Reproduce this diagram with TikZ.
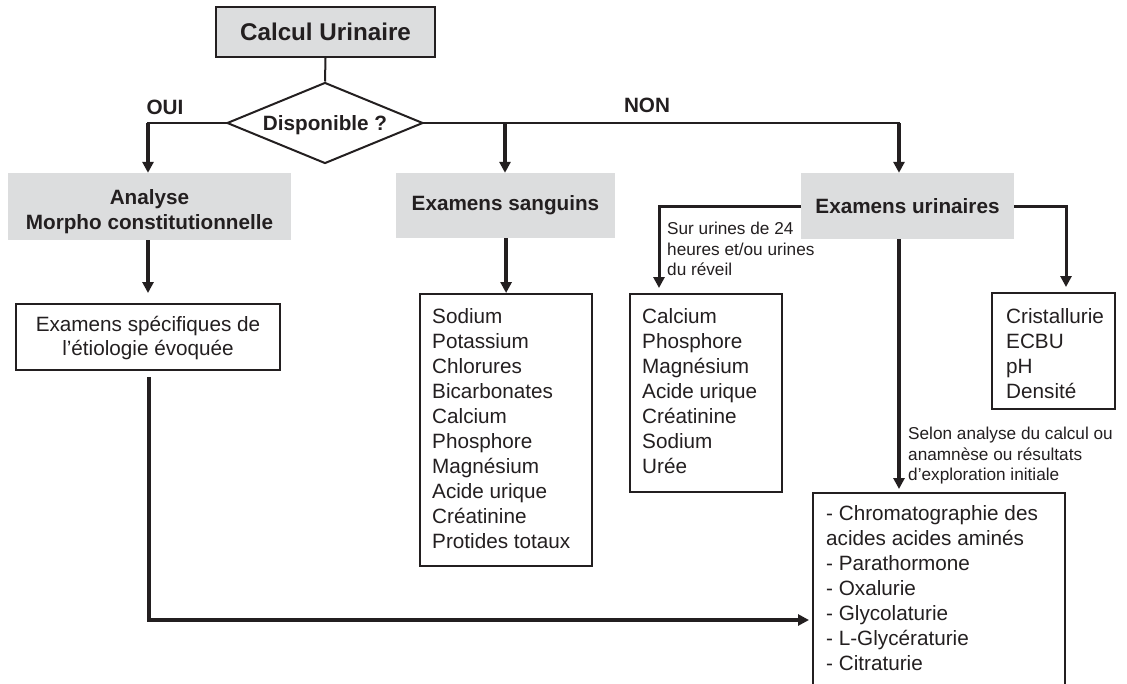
\documentclass[tikz,border=0pt]{standalone}
\usepackage{fontspec}
\setmainfont{Liberation Sans}
\usetikzlibrary{shapes.geometric,arrows.meta}
\definecolor{ink}{HTML}{231F20}
\definecolor{boxgray}{HTML}{DCDDDE}
\begin{document}
\begin{tikzpicture}[x=1pt,y=-1pt,
  txt/.style={font=\fontsize{20.7}{25}\selectfont, text=ink, inner sep=0pt},
  hdr/.style={font=\bfseries\fontsize{20.7}{25}\selectfont, text=ink, inner sep=0pt},
  graybox/.style={fill=boxgray, draw=none, inner sep=0pt},
  listbox/.style={draw=ink, line width=2.2pt, fill=white, inner sep=0pt, anchor=north west},
  listtxt/.style={txt, align=left, anchor=north west},
  thinln/.style={draw=ink, line width=2pt},
  arr/.style={draw=ink, line width=3.5pt, -{Triangle[width=11pt,length=11pt]}},
  sidearr/.style={draw=ink, line width=3pt, -{Triangle[width=11pt,length=11pt]}},
  note/.style={font=\fontsize{17.2}{20.8}\selectfont, text=ink, align=left, inner sep=0pt, anchor=north west},
]
\path[use as bounding box, clip] (0,0) rectangle (1127,683);
\fill[white] (0,0) rectangle (1127,683);

% top
\node[draw=ink, line width=2pt, fill=boxgray, minimum width=219pt, minimum height=50pt, inner sep=0pt,
      font=\bfseries\fontsize{24.2}{29}\selectfont, text=ink] (calc) at (325.5,32) {Calcul Urinaire};
\node[diamond, draw=ink, line width=2pt, fill=white, minimum width=196pt, minimum height=81pt,
      shape aspect=2.42, inner sep=0pt, hdr, text depth=0pt] (dispo) at (325,123) {Disponible ?};
\node[hdr] (oui) at (165,107) {OUI};
\node[hdr] (non) at (647,105) {NON};

% gray header boxes
\node[graybox, minimum width=283pt, minimum height=67pt] (ana) at (149.5,206.5) {};
\node[hdr, align=center, anchor=north] (anatxt) at (149.5,189.3) {Analyse\\Morpho constitutionnelle};
\node[graybox, minimum width=219pt, minimum height=65pt, hdr] (esang) at (505.5,205.5) {Examens sanguins};
\node[graybox, minimum width=213pt, minimum height=66pt, hdr] (urin) at (907.5,206) {Examens urinaires};

% specific exams box
\node[draw=ink, line width=2pt, fill=white, minimum width=264pt, minimum height=66pt, inner sep=0pt] (spec) at (148,337) {};
\node[txt, align=center, anchor=north, font=\fontsize{20.7}{24}\selectfont] (spectxt) at (148,316.3) {Examens spécifiques de\\l’étiologie évoquée};

% list boxes
\node[listbox, minimum width=172pt, minimum height=272pt] (sang) at (419,293) {};
\node[listtxt] (sangtxt) at (432,308.3) {Sodium\\Potassium\\Chlorures\\Bicarbonates\\Calcium\\Phosphore\\Magnésium\\Acide urique\\Créatinine\\Protides totaux};

\node[listbox, minimum width=152pt, minimum height=198pt] (ca) at (629,293) {};
\node[listtxt] (catxt) at (642,308.3) {Calcium\\Phosphore\\Magnésium\\Acide urique\\Créatinine\\Sodium\\Urée};

\node[listbox, minimum width=123pt, minimum height=116pt] (cr) at (991,292) {};
\node[listtxt] (crtxt) at (1006,308.3) {Cristallurie\\ECBU\\pH\\Densité};

\node[listbox, minimum width=252pt, minimum height=200pt] (bot) at (812,492) {};
\node[listtxt] (bottxt) at (826,505.3) {- Chromatographie des\\acides acides aminés\\- Parathormone\\- Oxalurie\\- Glycolaturie\\- L-Glycératurie\\- Citraturie};

% notes
\node[note] (n24) at (667,221.6) {Sur urines de 24\\heures et/ou urines\\du réveil};
\node[note] (nsel) at (908,426.6) {Selon analyse du calcul ou\\anamnèse ou résultats\\d’exploration initiale};

% connectors
\coordinate (oL) at (148,123);
\coordinate (nM) at (505,123);
\coordinate (nR) at (899,123);
\coordinate (uL) at (659,206);
\coordinate (uR) at (1066,206);
\coordinate (turn) at (149,620);

\draw[thinln] (calc.south) -- (dispo.north);
\draw[thinln, line cap=rect] (dispo.west) -- (oL);
\draw[thinln, line cap=rect] (dispo.east) -- (nR);
\draw[arr] (oL) -- (oL |- ana.north);
\draw[arr] (nM) -- (nM |- esang.north);
\draw[arr] (nR) -- (nR |- urin.north);

\draw[arr, shorten >=10pt] (ana.south -| oL) -- (spec.north -| oL);
\draw[arr] (esang.south -| sang.north) -- (sang.north);

\draw[sidearr, shorten >=5pt] (urin.west) -- (uL) -- (uL |- ca.north);
\draw[sidearr, shorten >=5pt] (urin.east) -- (uR) -- (uR |- cr.north);
\draw[arr, shorten >=3pt] (urin.south -| nR) -- (bot.north -| nR);

\draw[arr, shorten <=6pt, shorten >=3pt] (spec.south -| turn) |- (bot.west |- turn);
\end{tikzpicture}
\end{document}
